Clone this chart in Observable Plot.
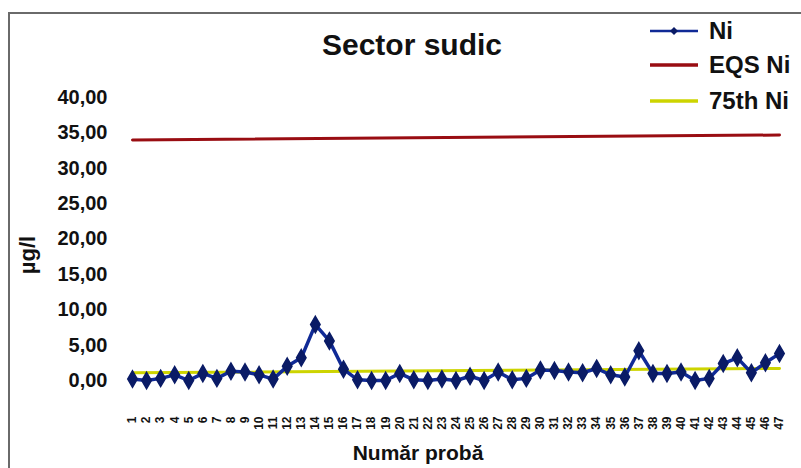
<!DOCTYPE html>
<html>
<head>
<meta charset="utf-8">
<script src="https://cdn.jsdelivr.net/npm/d3@7"></script>
<script src="https://cdn.jsdelivr.net/npm/@observablehq/plot@0.6"></script>
<style>
  html, body { margin: 0; padding: 0; background: #fff; }
  #wrap { position: relative; width: 801px; height: 468px; overflow: hidden; font-family: "Liberation Sans", Arial, sans-serif; }
  #frame { position: absolute; left: 8px; top: 12px; width: 820px; height: 500px; border: 2px solid #6a6a6a; box-sizing: border-box; }
  #title { position: absolute; left: 262px; width: 300px; top: 28px; text-align: center; font-weight: bold; font-size: 30px; color: #111; }
  .leg { position: absolute; left: 648px; height: 30px; display: flex; align-items: center; font-weight: bold; font-size: 24px; color: #111; }
  .leg svg { margin-right: 9px; }
  #ylab { position: absolute; left: 28px; top: 255px; transform: translate(-50%, -50%) rotate(-90deg); font-weight: bold; font-size: 22px; color: #111; white-space: nowrap; }
  #xlab { position: absolute; left: 268px; width: 300px; top: 441px; text-align: center; font-weight: bold; font-size: 21px; color: #111; }
  #chart { position: absolute; left: 0; top: 0; }
</style>
</head>
<body>
<div id="wrap">
  <div id="chart"></div>
  <div id="frame"></div>
  <div id="title">Sector sudic</div>
  <div id="legend"></div>
  <div id="ylab">µg/l</div>
  <div id="xlab">Număr probă</div>
</div>
<script>
// ---- data ----
const sampleLabels = [1,2,3,4,5,6,7,8,9,10,11,12,13,14,15,16,17,18,19,20,21,22,23,24,25,26,27,28,29,30,31,32,33,34,35,36,37,38,39,40,41,42,43,44,45,46,47];
const niValues = [0.2,0.0,0.3,0.8,0.0,1.0,0.3,1.3,1.2,0.8,0.2,
                  2.0,3.2,7.9,5.6,1.6,
                  0.1,0.0,0.0,1.0,0.1,0.0,0.2,0.0,0.6,0.0,1.2,0.1,0.3,1.5,
                  1.4,1.2,1.1,1.7,0.8,
                  0.5,4.2,1.0,1.0,1.2,0.0,0.3,2.4,3.2,1.1,2.5,3.8];
const eqsSamples = [1, 47];
const eqsValues = [34.0, 34.7];
const p75Samples = [1, 47];
const p75Values = [1.1, 1.7];
const yTicks = [0,5,10,15,20,25,30,35,40];

const seriesNames = ["Ni", "EQS Ni", "75th Ni"];
const colors = {Ni: "#102a96", NiMarker: "#0a1b66", "EQS Ni": "#990d12", "75th Ni": "#cdd400"};

const ni = sampleLabels.map((s, i) => ({sample: s, value: niValues[i]}));
const eqs = eqsSamples.map((s, i) => ({sample: s, value: eqsValues[i]}));
const p75 = p75Samples.map((s, i) => ({sample: s, value: p75Values[i]}));

const fmt = d => d.toFixed(2).replace(".", ",");

const chart = Plot.plot({
  width: 801,
  height: 468,
  marginLeft: 132,
  marginRight: 22,
  marginTop: 97,
  marginBottom: 88,
  style: {fontFamily: "Liberation Sans, Arial, sans-serif", background: "transparent", color: "#111"},
  x: {domain: [1, 47], axis: null},
  y: {domain: [0, 40], axis: null},
  marks: [
    Plot.axisY(yTicks, {tickSize: 0, tickPadding: 25, tickFormat: fmt, fontSize: 20, fontWeight: "bold", label: null}),
    Plot.axisX(sampleLabels, {tickSize: 0, tickPadding: 36, tickRotate: -90, fontSize: 12, fontWeight: "bold", label: null, tickFormat: d => String(d)}),
    Plot.line(eqs, {x: "sample", y: "value", stroke: colors["EQS Ni"], strokeWidth: 3}),
    Plot.line(p75, {x: "sample", y: "value", stroke: colors["75th Ni"], strokeWidth: 3}),
    Plot.line(ni, {x: "sample", y: "value", stroke: colors.Ni, strokeWidth: 3.5}),
    Plot.dot(ni, {x: "sample", y: "value", symbol: "diamond", r: 5, fill: colors.NiMarker, stroke: colors.NiMarker, strokeWidth: 1.5})
  ]
});
document.getElementById("chart").appendChild(chart);

// ---- legend ----
const legend = document.getElementById("legend");
const legendY = [16, 50, 86];
seriesNames.forEach((name, i) => {
  const row = document.createElement("div");
  row.className = "leg";
  row.style.top = legendY[i] + "px";
  const c = name === "Ni" ? colors.Ni : colors[name];
  let svg = `<svg width="52" height="12"><line x1="2" x2="50" y1="6" y2="6" stroke="${c}" stroke-width="${name === "Ni" ? 2.5 : 3.5}"/>`;
  if (name === "Ni") svg += `<path d="M26,2 L30,6 L26,10 L22,6 Z" fill="${colors.NiMarker}"/>`;
  svg += `</svg>`;
  row.innerHTML = svg + `<span>${name}</span>`;
  legend.appendChild(row);
});
</script>
</body>
</html>
